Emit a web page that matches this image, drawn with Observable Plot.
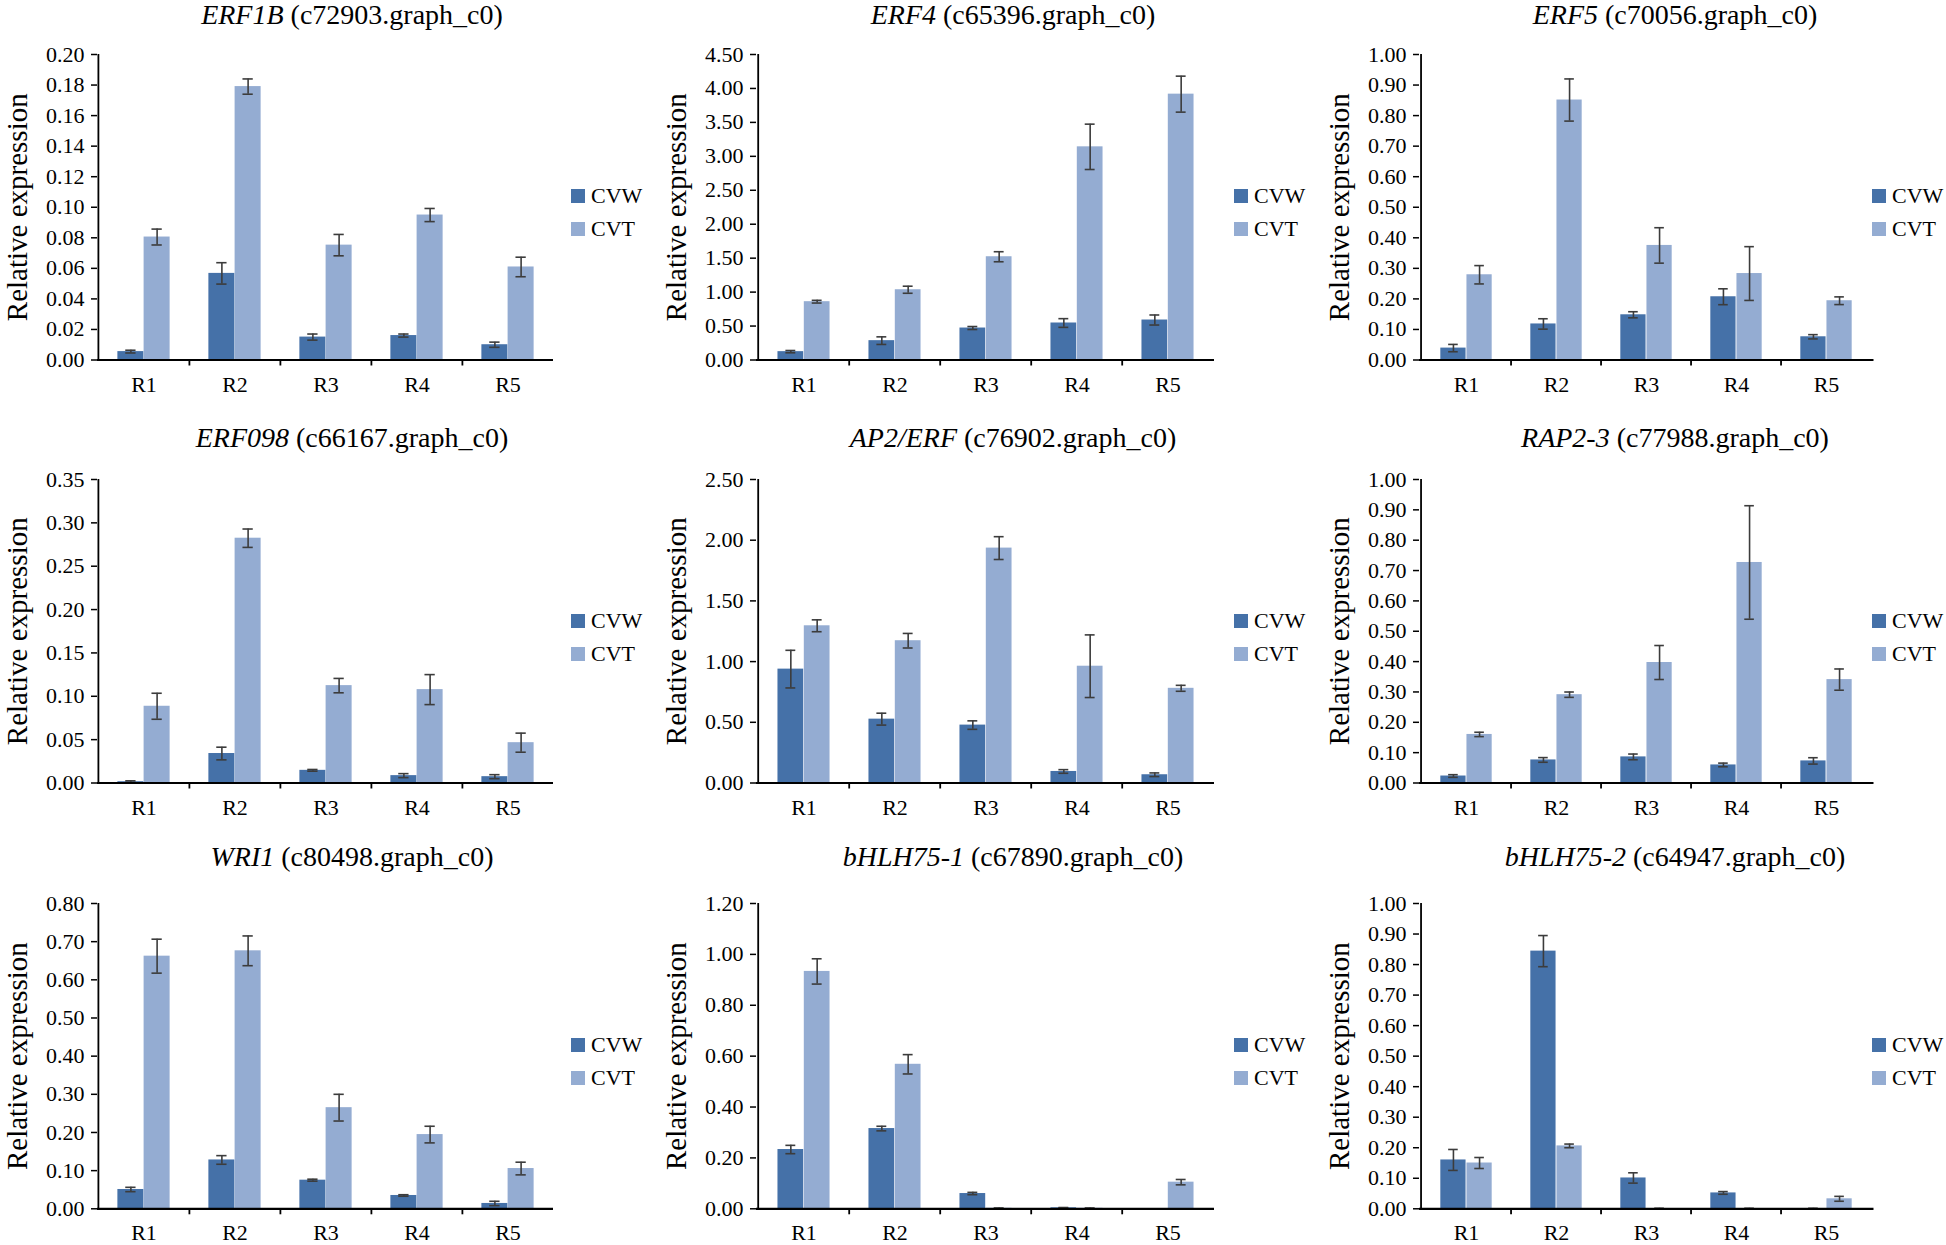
<!DOCTYPE html>
<html>
<head>
<meta charset="utf-8">
<script src="https://cdn.jsdelivr.net/npm/d3@7"></script>
<script src="https://cdn.jsdelivr.net/npm/@observablehq/plot@0.6"></script>
<style>
  html, body { margin: 0; padding: 0; background: #fff; }
  #fig { position: relative; width: 1946px; height: 1245px; overflow: hidden; background: #fff;
         font-family: "Liberation Serif", "Times New Roman", serif; color: #000; }
  #fig svg text { font-family: "Liberation Serif", "Times New Roman", serif; }
  .title { position: absolute; font-size: 28px; line-height: 30px; white-space: nowrap; transform: translateX(-50%); }
  .sw { position: absolute; width: 14px; height: 14px; }
  .lt { position: absolute; font-size: 22px; line-height: 24px; white-space: nowrap; }
  .panel { position: absolute; }
</style>
</head>
<body>
<div id="fig"></div>
<script>
// ---------------- data ----------------
const regions = ["R1", "R2", "R3", "R4", "R5"];
const series = ["CVW", "CVT"];
const genes = ["ERF1B", "ERF4", "ERF5", "ERF098", "AP2/ERF", "RAP2-3", "WRI1", "bHLH75-1", "bHLH75-2"];
const geneIds = ["c72903.graph_c0", "c65396.graph_c0", "c70056.graph_c0", "c66167.graph_c0", "c76902.graph_c0",
                 "c77988.graph_c0", "c80498.graph_c0", "c67890.graph_c0", "c64947.graph_c0"];
const yMax  = [0.20, 4.50, 1.00, 0.35, 2.50, 1.00, 0.80, 1.20, 1.00];
const yStep = [0.02, 0.50, 0.10, 0.05, 0.50, 0.10, 0.10, 0.20, 0.10];
const yLabel = "Relative expression";

const cvwMean = [
  [0.0055, 0.0567, 0.015, 0.016, 0.010],
  [0.123, 0.285, 0.471, 0.545, 0.589],
  [0.039, 0.118, 0.148, 0.207, 0.076],
  [0.0015, 0.034, 0.0146, 0.0085, 0.0073],
  [0.938, 0.526, 0.477, 0.095, 0.068],
  [0.023, 0.076, 0.086, 0.0595, 0.0728],
  [0.0506, 0.128, 0.075, 0.0349, 0.014],
  [0.233, 0.3154, 0.060, 0.004, 0],
  [0.160, 0.844, 0.101, 0.052, 0.001]
];
const cvwErr = [
  [0.0009, 0.007, 0.002, 0.001, 0.0017],
  [0.017, 0.056, 0.022, 0.064, 0.074],
  [0.012, 0.017, 0.010, 0.026, 0.007],
  [0.001, 0.0073, 0.001, 0.0023, 0.0023],
  [0.155, 0.049, 0.035, 0.015, 0.015],
  [0.0044, 0.0077, 0.0094, 0.006, 0.0105],
  [0.0057, 0.0113, 0.0026, 0.002, 0.0057],
  [0.0164, 0.009, 0.0046, 0.001, 0],
  [0.0343, 0.051, 0.0169, 0.0044, 0.0005]
];
const cvtMean = [
  [0.0805, 0.179, 0.0752, 0.0949, 0.0609],
  [0.859, 1.035, 1.521, 3.14, 3.916],
  [0.279, 0.851, 0.375, 0.283, 0.194],
  [0.0885, 0.2823, 0.1123, 0.1077, 0.0465],
  [1.295, 1.172, 1.935, 0.962, 0.780],
  [0.160, 0.291, 0.397, 0.7266, 0.3407],
  [0.662, 0.676, 0.265, 0.1945, 0.1055],
  [0.933, 0.568, 0.002, 0.002, 0.1047],
  [0.150, 0.206, 0.001, 0.001, 0.0327]
];
const cvtErr = [
  [0.0052, 0.005, 0.007, 0.0043, 0.0064],
  [0.020, 0.052, 0.074, 0.334, 0.265],
  [0.030, 0.069, 0.058, 0.088, 0.0126],
  [0.015, 0.0106, 0.0083, 0.0173, 0.011],
  [0.049, 0.060, 0.094, 0.258, 0.0245],
  [0.0072, 0.0088, 0.056, 0.187, 0.035],
  [0.0445, 0.039, 0.035, 0.0218, 0.0166],
  [0.0497, 0.038, 0.001, 0.001, 0.0105],
  [0.018, 0.006, 0.0005, 0.0005, 0.008]
];

// ---------------- styling / layout ----------------
const colors = ["#4571a8", "#94acd2"];
const errColor = "#3c3c3c";
const colAxis  = [96.5, 756, 1419];
const colRight = [552.5, 1214, 1873.5];
const rowTop    = [53.5, 479, 902.7];
const rowBottom = [359, 782.5, 1208];
const titleCx = [352, 1013, 1675];
const titleBase = [24, 447, 866];
const legendX = [571, 1234, 1872];
const legendY = [196, 620.7, 1045];
const legendGap = 33;

const fig = document.getElementById("fig");
const ML = 100, MR = 10, MT = 20, MB = 50;

genes.forEach((gene, i) => {
  const r = Math.floor(i / 3), c = i % 3;
  const innerW = colRight[c] - colAxis[c];
  const B = innerW / 5;
  const barW = B * 0.2875;
  const outer = (B - 2 * barW) / 2;
  const capHalf = 5.25;
  const width = innerW + ML + MR;
  const height = rowBottom[r] - rowTop[r] + MT + MB;

  const rows = regions.map((reg, j) => ({
    region: reg,
    cvw: cvwMean[i][j], cvwErr: cvwErr[i][j],
    cvt: cvtMean[i][j], cvtErr: cvtErr[i][j]
  }));
  const ticks = d3.range(0, Math.round(yMax[i] / yStep[i]) + 1).map(k => +(k * yStep[i]).toFixed(4));

  const plot = Plot.plot({
    width, height,
    marginLeft: ML, marginRight: MR, marginTop: MT, marginBottom: MB,
    style: { fontFamily: '"Liberation Serif", "Times New Roman", serif', fontSize: "22px", color: "#000", background: "transparent", overflow: "visible" },
    x: { type: "band", domain: regions, padding: 0, axis: null },
    y: { domain: [0, yMax[i]], axis: null },
    marks: [
      Plot.barY(rows, { x: "region", y: "cvw", fill: colors[0], insetLeft: outer, insetRight: outer + barW }),
      Plot.barY(rows, { x: "region", y: "cvt", fill: colors[1], insetLeft: outer + barW, insetRight: outer }),
      // error bars CVW
      Plot.ruleX(rows.filter(d => d.cvwErr > 0), { x: "region", y1: d => d.cvw - d.cvwErr, y2: d => d.cvw + d.cvwErr, dx: -barW / 2, stroke: errColor, strokeWidth: 1.6 }),
      Plot.tickY(rows.filter(d => d.cvwErr > 0), { x: "region", y: d => d.cvw + d.cvwErr, insetLeft: B / 2 - barW / 2 - capHalf, insetRight: B / 2 + barW / 2 - capHalf, stroke: errColor, strokeWidth: 1.6 }),
      Plot.tickY(rows.filter(d => d.cvwErr > 0), { x: "region", y: d => Math.max(0, d.cvw - d.cvwErr), insetLeft: B / 2 - barW / 2 - capHalf, insetRight: B / 2 + barW / 2 - capHalf, stroke: errColor, strokeWidth: 1.6 }),
      // error bars CVT
      Plot.ruleX(rows.filter(d => d.cvtErr > 0), { x: "region", y1: d => d.cvt - d.cvtErr, y2: d => d.cvt + d.cvtErr, dx: barW / 2, stroke: errColor, strokeWidth: 1.6 }),
      Plot.tickY(rows.filter(d => d.cvtErr > 0), { x: "region", y: d => d.cvt + d.cvtErr, insetLeft: B / 2 + barW / 2 - capHalf, insetRight: B / 2 - barW / 2 - capHalf, stroke: errColor, strokeWidth: 1.6 }),
      Plot.tickY(rows.filter(d => d.cvtErr > 0), { x: "region", y: d => Math.max(0, d.cvt - d.cvtErr), insetLeft: B / 2 + barW / 2 - capHalf, insetRight: B / 2 - barW / 2 - capHalf, stroke: errColor, strokeWidth: 1.6 }),
      // axes
      Plot.axisY({ ticks, tickFormat: d => d.toFixed(2), tickSize: 6, tickPadding: 7, label: null, strokeWidth: 1.5 }),
      Plot.ruleX([regions[0]], { dx: -B / 2, y1: 0, y2: yMax[i], stroke: "#000", strokeWidth: 1.8 }),
      Plot.ruleY([0], { stroke: "#000", strokeWidth: 2.2 }),
      Plot.axisX({ ticks: regions.slice(1), tickSize: 6, dx: -B / 2, tickFormat: () => "", label: null, strokeWidth: 1.8 }),
      Plot.axisX({ tickSize: 0, tickPadding: 16, label: null }),
      Plot.text([yLabel], { frameAnchor: "left", textAnchor: "middle", lineAnchor: "middle", dx: -80, rotate: -90, fontSize: 29, fill: "#000" })
    ]
  });
  plot.classList.add("panel");
  plot.style.left = (colAxis[c] - ML) + "px";
  plot.style.top = (rowTop[r] - MT) + "px";
  fig.appendChild(plot);

  // title
  const t = document.createElement("div");
  t.className = "title";
  t.innerHTML = `<i>${gene}</i> (${geneIds[i]})`;
  t.style.left = titleCx[c] + "px";
  t.style.top = (titleBase[r] - 24) + "px";
  fig.appendChild(t);

  // legend
  series.forEach((s, k) => {
    const cy = legendY[r] + k * legendGap;
    const sw = document.createElement("div");
    sw.className = "sw";
    sw.style.background = colors[k];
    sw.style.left = legendX[c] + "px";
    sw.style.top = (cy - 7) + "px";
    fig.appendChild(sw);
    const lt = document.createElement("div");
    lt.className = "lt";
    lt.textContent = s;
    lt.style.left = (legendX[c] + 20) + "px";
    lt.style.top = (cy - 12) + "px";
    fig.appendChild(lt);
  });
});
</script>
</body>
</html>
